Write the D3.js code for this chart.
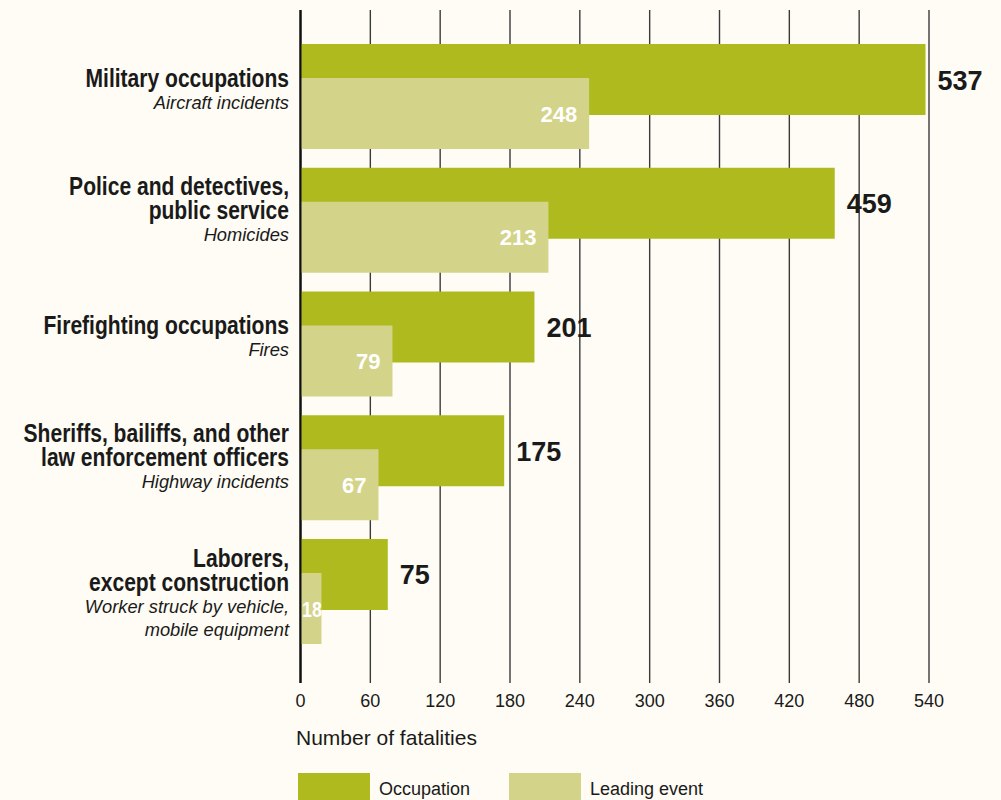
<!DOCTYPE html>
<html>
<head>
<meta charset="utf-8">
<script src="https://cdn.jsdelivr.net/npm/d3@7"></script>
<style>
  html, body { margin: 0; padding: 0; background: #FEFCF4; }
  svg { display: block; }
</style>
</head>
<body>
<svg id="chart" width="1001" height="800"></svg>
<script>
// ---- data ----
const categories = [
  "Military occupations",
  "Police and detectives, public service",
  "Firefighting occupations",
  "Sheriffs, bailiffs, and other law enforcement officers",
  "Laborers, except construction"
];
const categoryLines = [
  ["Military occupations"],
  ["Police and detectives,", "public service"],
  ["Firefighting occupations"],
  ["Sheriffs, bailiffs, and other", "law enforcement officers"],
  ["Laborers,", "except construction"]
];
const eventLines = [
  ["Aircraft incidents"],
  ["Homicides"],
  ["Fires"],
  ["Highway incidents"],
  ["Worker struck by vehicle,", "mobile equipment"]
];
const occupationValues = [537, 459, 201, 175, 75];
const eventValues = [248, 213, 79, 67, 18];
const xTicks = [0, 60, 120, 180, 240, 300, 360, 420, 480, 540];
const seriesNames = ["Occupation", "Leading event"];

// ---- style ----
const BG = "#FEFCF4";
const DARK = "#AEBA1E";
const LIGHT = "#D4D38A";
const INK = "#1a1a1a";
const SANS = "'Liberation Sans', Arial, Helvetica, sans-serif";
const NARROW_SCALE = 0.81;

const svg = d3.select("#chart");
svg.append("rect").attr("width", 1001).attr("height", 800).attr("fill", BG);

const x = d3.scaleLinear().domain([0, 540]).range([300.5, 929]);
const y = d3.scaleBand().domain(categories).range([44, 644]).paddingInner(0.1515).paddingOuter(0);
const barH = 71;
const lightOffset = y.bandwidth() - barH;

// gridlines
svg.append("g").selectAll("line").data(xTicks).join("line")
  .attr("x1", d => x(d)).attr("x2", d => x(d))
  .attr("y1", 10).attr("y2", 683)
  .attr("stroke", d => d === 0 ? "#111" : "#3a3a3a")
  .attr("stroke-width", d => d === 0 ? 2 : 1.4);

// tick labels
svg.append("g").selectAll("text").data(xTicks).join("text")
  .attr("x", d => x(d)).attr("y", 707)
  .attr("text-anchor", "middle")
  .attr("font-family", SANS).attr("font-size", 18).attr("fill", INK)
  .text(d => d);

svg.append("text").attr("x", 296).attr("y", 745)
  .attr("font-family", SANS).attr("font-size", 21).attr("fill", INK)
  .text("Number of fatalities");

const rows = categories.map((c, i) => ({
  cat: c, occ: occupationValues[i], ev: eventValues[i],
  lines: categoryLines[i], evLines: eventLines[i]
}));

// bars
const g = svg.append("g");
g.selectAll("rect.occ").data(rows).join("rect").attr("class", "occ")
  .attr("x", x(0)).attr("y", d => y(d.cat))
  .attr("width", d => x(d.occ) - x(0)).attr("height", barH)
  .attr("fill", DARK);
g.selectAll("rect.ev").data(rows).join("rect").attr("class", "ev")
  .attr("x", x(0)).attr("y", d => y(d.cat) + lightOffset)
  .attr("width", d => x(d.ev) - x(0)).attr("height", barH)
  .attr("fill", LIGHT);

// zero line on top
svg.append("line").attr("x1", x(0)).attr("x2", x(0)).attr("y1", 10).attr("y2", 683)
  .attr("stroke", "#111").attr("stroke-width", 2);

// occupation value labels
g.selectAll("text.occv").data(rows).join("text").attr("class", "occv")
  .attr("x", d => x(d.occ) + 12)
  .attr("y", d => y(d.cat) + barH / 2 + 10)
  .attr("font-family", SANS).attr("font-weight", "bold").attr("font-size", 27)
  .attr("fill", INK)
  .text(d => d.occ);

// event value labels
g.selectAll("text.evv").data(rows).join("text").attr("class", "evv")
  .attr("font-family", SANS).attr("font-weight", "bold").attr("font-size", 22)
  .attr("fill", "#ffffff")
  .each(function(d) {
    const t = d3.select(this);
    const w = x(d.ev) - x(0);
    const yy = y(d.cat) + lightOffset + barH / 2 + 8;
    if (w < 40) {
      t.attr("text-anchor", "middle")
       .attr("transform", `translate(${x(0) + w / 2 + 1},${yy}) scale(${NARROW_SCALE},1)`);
    } else {
      t.attr("text-anchor", "end").attr("x", x(d.ev) - 12).attr("y", yy);
    }
  })
  .text(d => d.ev);

// category labels
const firstBaseline = {2: 43, 3: 27, 4: 28};
const labels = svg.append("g");
rows.forEach(d => {
  const n = d.lines.length + d.evLines.length;
  let yy = y(d.cat) + firstBaseline[n];
  const t = labels.append("g");
  d.lines.forEach((ln, j) => {
    if (j > 0) yy += 24;
    t.append("text").attr("text-anchor", "end")
      .attr("transform", `translate(289,${yy}) scale(${NARROW_SCALE},1)`)
      .attr("font-family", SANS).attr("font-weight", "bold").attr("font-size", 26)
      .attr("fill", INK).text(ln);
  });
  d.evLines.forEach((ln, j) => {
    yy += j === 0 ? 22 : 23;
    t.append("text").attr("x", 289).attr("y", yy).attr("text-anchor", "end")
      .attr("font-family", SANS).attr("font-style", "italic").attr("font-size", 18.3)
      .attr("fill", INK).text(ln);
  });
});

// legend
const legend = svg.append("g");
const legendX = [298, 509];
const legendColors = [DARK, LIGHT];
seriesNames.forEach((s, i) => {
  legend.append("rect").attr("x", legendX[i]).attr("y", 773).attr("width", 72).attr("height", 30)
    .attr("fill", legendColors[i]);
  legend.append("text").attr("x", legendX[i] + 81).attr("y", 795)
    .attr("font-family", SANS).attr("font-size", 18).attr("fill", INK).text(s);
});
</script>
</body>
</html>
